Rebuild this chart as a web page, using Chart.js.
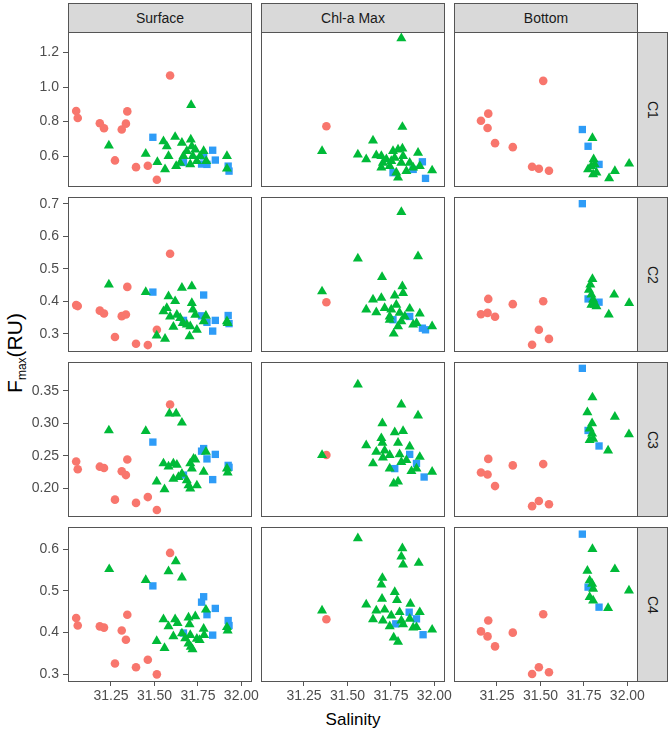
<!DOCTYPE html>
<html lang="en">
<head>
  <meta charset="UTF-8">
  <title>Fmax vs Salinity</title>
  <script src="https://cdn.jsdelivr.net/npm/chart.js"></script>
  <style>
    body {
      margin: 0;
      background: #fff;
      font-family: Arial, "Liberation Sans", sans-serif;
    }

    #wrap {
      position: relative;
      width: 671px;
      height: 732px;
    }

    canvas {
      position: absolute;
    }

    .strip {
      position: absolute;
      box-sizing: border-box;
      background: #d9d9d9;
      border: 1px solid #555;
      color: #1a1a1a;
      font-size: 14px;
      display: flex;
      align-items: center;
      justify-content: center;
    }

    .strip.side span {
      writing-mode: vertical-rl;
    }

    #xtitle {
      position: absolute;
      left: 353px;
      top: 720px;
      transform: translate(-50%, -50%);
      font-size: 17px;
      color: #000;
    }

    #ytitle {
      position: absolute;
      left: 15px;
      top: 353px;
      transform: translate(-50%, -50%) rotate(-90deg);
      font-size: 21px;
      line-height: 24px;
      color: #000;
      white-space: nowrap;
    }

    #ytitle sub {
      font-size: 12px;
      line-height: 0;
      vertical-align: -4px;
    }
  </style>
</head>
<body>

<div id="wrap">
  <div id="xtitle">Salinity</div>
  <div id="ytitle">F<sub>max</sub>(RU)</div>
</div>

<script>
  // facets
  const columns = ['Surface', 'Chl-a Max', 'Bottom'];
  const components = ['C1', 'C2', 'C3', 'C4'];

  // y axis per component
  const yMin = [0.421, 0.2437, 0.1552, 0.2817];
  const yMax = [1.319, 0.7206, 0.3948, 0.6531];
  const yStep = [0.2, 0.1, 0.05, 0.1];
  const yDigits = [1, 1, 2, 1];
  // shared salinity axis
  const xMin = 31.003, xMax = 32.061, xStep = 0.25;

  // ---- Surface ----
  const surfRedX = [31.050, 31.059, 31.186, 31.210, 31.273, 31.312, 31.336, 31.344, 31.394, 31.462, 31.514, 31.590];
  const surfRedC1 = [0.861, 0.821, 0.790, 0.761, 0.575, 0.754, 0.788, 0.859, 0.536, 0.544, 0.463, 1.067];
  const surfRedC2 = [0.388, 0.385, 0.371, 0.362, 0.290, 0.354, 0.359, 0.444, 0.269, 0.265, 0.312, 0.546];
  const surfRedC3 = [0.241, 0.229, 0.233, 0.231, 0.182, 0.226, 0.220, 0.244, 0.177, 0.186, 0.166, 0.329];
  const surfRedC4 = [0.435, 0.417, 0.415, 0.412, 0.326, 0.405, 0.383, 0.443, 0.317, 0.335, 0.300, 0.591];

  const surfBlueX = [31.491, 31.667, 31.771, 31.783, 31.802, 31.835, 31.850, 31.924, 31.929];
  const surfBlueC1 = [0.709, 0.563, 0.554, 0.600, 0.552, 0.634, 0.577, 0.542, 0.513];
  const surfBlueC2 = [0.428, 0.341, 0.355, 0.419, 0.335, 0.308, 0.341, 0.356, 0.331];
  const surfBlueC3 = [0.271, 0.220, 0.257, 0.261, 0.245, 0.213, 0.252, 0.235, 0.232];
  const surfBlueC4 = [0.512, 0.399, 0.473, 0.486, 0.443, 0.394, 0.458, 0.429, 0.417];

  const surfGreenC1 = [[31.238, 0.661], [31.450, 0.613], [31.517, 0.565], [31.561, 0.523], [31.552, 0.686],
    [31.581, 0.600], [31.619, 0.711], [31.625, 0.542], [31.658, 0.677], [31.667, 0.600], [31.686, 0.629],
    [31.709, 0.696], [31.715, 0.657], [31.721, 0.600], [31.735, 0.638], [31.706, 0.552], [31.744, 0.571],
    [31.783, 0.629], [31.798, 0.571], [31.711, 0.896], [31.917, 0.600], [31.917, 0.527], [31.571, 0.657],
    [31.648, 0.561], [31.763, 0.600]];
  const surfGreenC2 = [[31.238, 0.451], [31.450, 0.428], [31.513, 0.294], [31.561, 0.284], [31.552, 0.369],
    [31.581, 0.415], [31.590, 0.353], [31.619, 0.400], [31.609, 0.321], [31.658, 0.441], [31.648, 0.348],
    [31.663, 0.333], [31.715, 0.446], [31.715, 0.394], [31.721, 0.374], [31.706, 0.323], [31.702, 0.292],
    [31.744, 0.312], [31.735, 0.358], [31.783, 0.338], [31.796, 0.355], [31.917, 0.338], [31.921, 0.333],
    [31.571, 0.379], [31.686, 0.328], [31.629, 0.358]];
  const surfGreenC3 = [[31.238, 0.289], [31.450, 0.288], [31.586, 0.315], [31.625, 0.315], [31.658, 0.301],
    [31.513, 0.210], [31.558, 0.198], [31.552, 0.238], [31.581, 0.233], [31.609, 0.238], [31.629, 0.236],
    [31.609, 0.214], [31.638, 0.217], [31.658, 0.222], [31.706, 0.238], [31.715, 0.230], [31.725, 0.245],
    [31.735, 0.244], [31.686, 0.212], [31.696, 0.204], [31.706, 0.199], [31.744, 0.204], [31.783, 0.225],
    [31.796, 0.256], [31.917, 0.230], [31.921, 0.224]];
  const surfGreenC4 = [[31.240, 0.552], [31.450, 0.526], [31.581, 0.547], [31.623, 0.571], [31.658, 0.532],
    [31.513, 0.380], [31.558, 0.363], [31.552, 0.432], [31.581, 0.415], [31.619, 0.432], [31.633, 0.423],
    [31.609, 0.391], [31.658, 0.398], [31.696, 0.436], [31.702, 0.420], [31.706, 0.394], [31.709, 0.366],
    [31.719, 0.360], [31.735, 0.439], [31.744, 0.385], [31.760, 0.382], [31.783, 0.409], [31.796, 0.455],
    [31.786, 0.394], [31.917, 0.413], [31.921, 0.405], [31.677, 0.386], [31.696, 0.374]];

  // ---- Chl-a Max ----
  const chlRedX = [31.379];
  const chlRedC1 = [0.773];
  const chlRedC2 = [0.397];
  const chlRedC3 = [0.251];
  const chlRedC4 = [0.432];

  const chlBlueC1 = [[31.931, 0.567], [31.949, 0.471], [31.762, 0.504], [31.878, 0.523]];
  const chlBlueC2 = [[31.931, 0.317], [31.949, 0.312], [31.858, 0.353], [31.762, 0.343]];
  const chlBlueC3 = [[31.858, 0.252], [31.897, 0.238], [31.941, 0.217], [31.772, 0.230]];
  const chlBlueC4 = [[31.855, 0.449], [31.897, 0.433], [31.935, 0.395], [31.778, 0.421]];

  const chlGreenC1 = [[31.354, 0.629], [31.810, 1.282], [31.816, 0.769], [31.647, 0.690], [31.560, 0.609],
    [31.608, 0.581], [31.666, 0.604], [31.695, 0.600], [31.704, 0.561], [31.695, 0.533], [31.743, 0.542],
    [31.762, 0.629], [31.772, 0.590], [31.791, 0.638], [31.816, 0.644], [31.820, 0.600], [31.810, 0.561],
    [31.781, 0.504], [31.791, 0.475], [31.858, 0.561], [31.878, 0.533], [31.906, 0.619], [31.916, 0.542],
    [31.987, 0.517], [31.839, 0.513], [31.752, 0.571], [31.724, 0.581]];
  const chlGreenC2 = [[31.354, 0.430], [31.810, 0.674], [31.560, 0.531], [31.906, 0.538], [31.699, 0.474],
    [31.816, 0.446], [31.820, 0.425], [31.647, 0.405], [31.695, 0.410], [31.608, 0.374], [31.666, 0.366],
    [31.714, 0.379], [31.743, 0.343], [31.752, 0.374], [31.772, 0.417], [31.781, 0.389], [31.800, 0.364],
    [31.810, 0.338], [31.830, 0.353], [31.858, 0.377], [31.878, 0.328], [31.916, 0.362], [31.897, 0.333],
    [31.987, 0.323], [31.766, 0.300], [31.791, 0.323], [31.743, 0.353]];
  const chlGreenC3 = [[31.354, 0.251], [31.560, 0.360], [31.810, 0.329], [31.906, 0.312], [31.701, 0.300],
    [31.695, 0.277], [31.701, 0.270], [31.772, 0.286], [31.820, 0.288], [31.608, 0.266], [31.666, 0.256],
    [31.714, 0.258], [31.743, 0.251], [31.791, 0.270], [31.858, 0.264], [31.800, 0.252], [31.810, 0.240],
    [31.839, 0.243], [31.647, 0.238], [31.704, 0.247], [31.743, 0.230], [31.916, 0.248], [31.897, 0.230],
    [31.868, 0.226], [31.987, 0.225], [31.766, 0.207], [31.791, 0.210]];
  const chlGreenC4 = [[31.354, 0.453], [31.560, 0.626], [31.816, 0.602], [31.810, 0.582], [31.820, 0.563],
    [31.910, 0.567], [31.701, 0.531], [31.695, 0.515], [31.772, 0.497], [31.785, 0.478], [31.699, 0.481],
    [31.608, 0.467], [31.666, 0.453], [31.714, 0.455], [31.862, 0.469], [31.916, 0.449], [31.647, 0.432],
    [31.704, 0.429], [31.752, 0.441], [31.800, 0.449], [31.810, 0.429], [31.743, 0.415], [31.820, 0.420],
    [31.858, 0.433], [31.878, 0.412], [31.897, 0.413], [31.987, 0.407], [31.766, 0.388], [31.791, 0.378]];

  // ---- Bottom ----
  const botRedX = [31.200, 31.158, 31.196, 31.239, 31.341, 31.516, 31.491, 31.452, 31.549];
  const botRedC1 = [0.846, 0.805, 0.763, 0.675, 0.652, 1.036, 0.527, 0.538, 0.515];
  const botRedC2 = [0.407, 0.360, 0.364, 0.352, 0.391, 0.400, 0.312, 0.266, 0.284];
  const botRedC3 = [0.245, 0.224, 0.221, 0.203, 0.235, 0.237, 0.180, 0.172, 0.175];
  const botRedC4 = [0.429, 0.403, 0.391, 0.367, 0.400, 0.444, 0.317, 0.301, 0.305];

  const botBlueX = [31.741, 31.774, 31.837];
  const botBlueC1 = [0.754, 0.657, 0.552];
  const botBlueC2 = [0.700, 0.407, 0.397];
  const botBlueC3 = [0.385, 0.289, 0.265];
  const botBlueC4 = [0.636, 0.509, 0.461];

  const botGreenC1 = [[31.799, 0.705], [31.806, 0.581], [31.793, 0.542], [31.774, 0.523], [31.803, 0.494],
    [31.822, 0.504], [31.895, 0.471], [31.928, 0.513], [32.010, 0.556], [31.812, 0.552]];
  const botGreenC2 = [[31.799, 0.468], [31.787, 0.451], [31.779, 0.435], [31.793, 0.420], [31.803, 0.405],
    [31.812, 0.389], [31.793, 0.389], [31.924, 0.420], [32.010, 0.394], [31.893, 0.359], [31.822, 0.384]];
  const botGreenC3 = [[31.799, 0.340], [31.770, 0.317], [31.797, 0.300], [31.783, 0.292], [31.797, 0.284],
    [31.803, 0.276], [31.783, 0.274], [31.928, 0.310], [32.009, 0.283], [31.889, 0.258]];
  const botGreenC4 = [[31.799, 0.600], [31.770, 0.548], [31.783, 0.525], [31.797, 0.517], [31.803, 0.505],
    [31.783, 0.485], [31.803, 0.477], [31.928, 0.552], [32.009, 0.501], [31.889, 0.459]];

  const zip = (xs, ys) => xs.map((x, i) => ({ x: x, y: ys[i] }));
  const pairs = a => a.map(p => ({ x: p[0], y: p[1] }));

  // rows = components, cols = depth
  const panels = [
    [
      { red: zip(surfRedX, surfRedC1), blue: zip(surfBlueX, surfBlueC1), green: pairs(surfGreenC1) },
      { red: zip(chlRedX, chlRedC1), blue: pairs(chlBlueC1), green: pairs(chlGreenC1) },
      { red: zip(botRedX, botRedC1), blue: zip(botBlueX, botBlueC1), green: pairs(botGreenC1) }
    ],
    [
      { red: zip(surfRedX, surfRedC2), blue: zip(surfBlueX, surfBlueC2), green: pairs(surfGreenC2) },
      { red: zip(chlRedX, chlRedC2), blue: pairs(chlBlueC2), green: pairs(chlGreenC2) },
      { red: zip(botRedX, botRedC2), blue: zip(botBlueX, botBlueC2), green: pairs(botGreenC2) }
    ],
    [
      { red: zip(surfRedX, surfRedC3), blue: zip(surfBlueX, surfBlueC3), green: pairs(surfGreenC3) },
      { red: zip(chlRedX, chlRedC3), blue: pairs(chlBlueC3), green: pairs(chlGreenC3) },
      { red: zip(botRedX, botRedC3), blue: zip(botBlueX, botBlueC3), green: pairs(botGreenC3) }
    ],
    [
      { red: zip(surfRedX, surfRedC4), blue: zip(surfBlueX, surfBlueC4), green: pairs(surfGreenC4) },
      { red: zip(chlRedX, chlRedC4), blue: pairs(chlBlueC4), green: pairs(chlGreenC4) },
      { red: zip(botRedX, botRedC4), blue: zip(botBlueX, botBlueC4), green: pairs(botGreenC4) }
    ]
  ];

  // layout of the grid (px)
  const colLeft = [68, 261, 454];
  const rowTop = [32, 197, 362, 527];
  const panelW = 184, panelH = 155;
  const lineCol = '#555';
  const tickCol = '#4d4d4d';

  const wrap = document.getElementById('wrap');

  // panel border
  const frame = {
    id: 'frame',
    afterDraw(chart) {
      const a = chart.chartArea;
      const ctx = chart.ctx;
      ctx.save();
      ctx.strokeStyle = lineCol;
      ctx.lineWidth = 1;
      ctx.strokeRect(a.left + 0.5, a.top + 0.5, a.right - a.left - 1, a.bottom - a.top - 1);
      ctx.restore();
    }
  };

  // fixed axis size, no extra label padding
  function fixSize(prop, size) {
    return s => {
      s[prop] = size;
      s.paddingTop = 0;
      s.paddingBottom = 0;
      s.paddingLeft = 0;
      s.paddingRight = 0;
    };
  }

  // strips
  columns.forEach((name, c) => {
    const d = document.createElement('div');
    d.className = 'strip';
    d.style.left = colLeft[c] + 'px';
    d.style.top = '3px';
    d.style.width = panelW + 'px';
    d.style.height = '30px';
    d.textContent = name;
    wrap.appendChild(d);
  });
  components.forEach((name, r) => {
    const d = document.createElement('div');
    d.className = 'strip side';
    d.style.left = (colLeft[2] + panelW - 1) + 'px';
    d.style.top = rowTop[r] + 'px';
    d.style.width = '31px';
    d.style.height = panelH + 'px';
    const s = document.createElement('span');
    s.textContent = name;
    d.appendChild(s);
    wrap.appendChild(d);
  });

  function makePanel(r, c) {
    const showY = c === 0;
    const showX = r === 3;
    const padL = showY ? colLeft[0] : 1;
    const padR = showX ? 22 : 1;
    const padB = showX ? 32 : 1;

    const cv = document.createElement('canvas');
    const w = padL + panelW + padR;
    const h = 1 + panelH + padB;
    cv.width = w;
    cv.height = h;
    cv.style.width = w + 'px';
    cv.style.height = h + 'px';
    cv.style.left = (colLeft[c] - padL) + 'px';
    cv.style.top = (rowTop[r] - 1) + 'px';
    wrap.appendChild(cv);

    const p = panels[r][c];

    new Chart(cv, {
      type: 'scatter',
      data: {
        datasets: [
          { data: p.green, pointStyle: 'triangle', pointRadius: 5.8, backgroundColor: '#00ba38', borderWidth: 0 },
          { data: p.blue, pointStyle: 'rect', pointRadius: 5.2, backgroundColor: '#2e9cf7', borderWidth: 0 },
          { data: p.red, pointStyle: 'circle', pointRadius: 4.3, backgroundColor: '#f8766d', borderWidth: 0 }
        ]
      },
      options: {
        responsive: false,
        animation: false,
        layout: {
          autoPadding: false,
          padding: { left: showY ? 0 : 1, right: padR, top: 1, bottom: showX ? 0 : 1 }
        },
        plugins: {
          legend: { display: false },
          tooltip: { enabled: false }
        },
        scales: {
          x: {
            type: 'linear',
            min: xMin,
            max: xMax,
            display: showX,
            ticks: {
              stepSize: xStep,
              includeBounds: false,
              autoSkip: false,
              maxRotation: 0,
              color: tickCol,
              font: { size: 14, family: 'Arial, "Liberation Sans", sans-serif' },
              padding: 2,
              callback: v => v.toFixed(2)
            },
            grid: { drawOnChartArea: false, drawTicks: true, tickLength: 4, color: lineCol },
            border: { display: false },
            afterFit: showX ? fixSize('height', padB) : undefined
          },
          y: {
            type: 'linear',
            min: yMin[r],
            max: yMax[r],
            display: showY,
            ticks: {
              stepSize: yStep[r],
              includeBounds: false,
              autoSkip: false,
              color: tickCol,
              font: { size: 14, family: 'Arial, "Liberation Sans", sans-serif' },
              padding: 4,
              callback: v => v.toFixed(yDigits[r])
            },
            grid: { drawOnChartArea: false, drawTicks: true, tickLength: 5, color: lineCol },
            border: { display: false },
            afterFit: showY ? fixSize('width', padL) : undefined
          }
        }
      },
      plugins: [frame]
    });
  }

  for (let r = 0; r < components.length; r++) {
    for (let c = 0; c < columns.length; c++) {
      makePanel(r, c);
    }
  }
</script>

</body>
</html>
